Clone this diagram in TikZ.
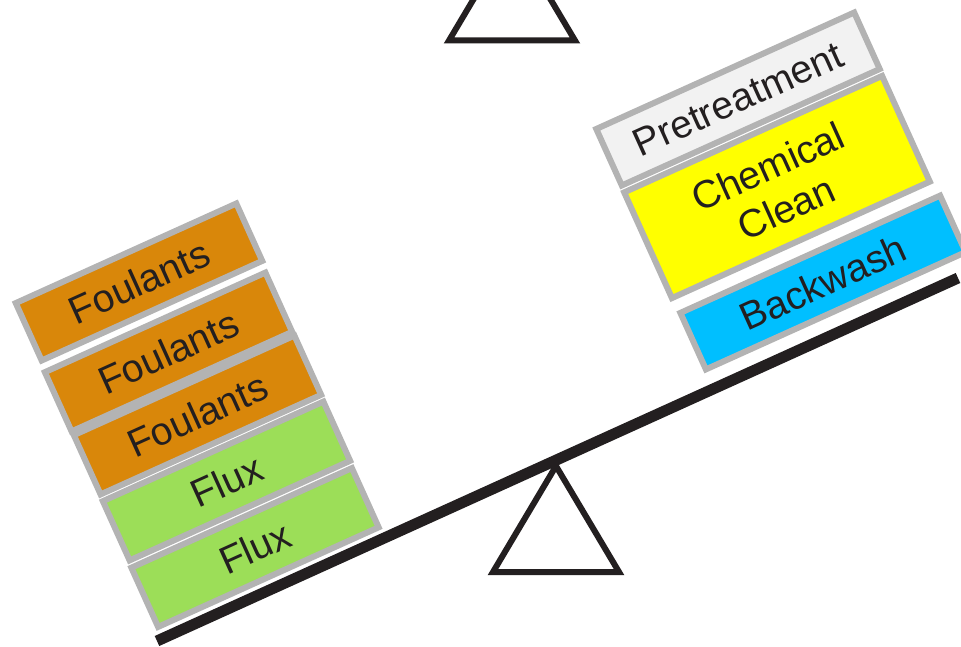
\documentclass[tikz,border=0pt]{standalone}
\usepackage{fontspec}
\setmainfont{Liberation Sans}
\definecolor{rimgray}{RGB}{179,179,179}
\definecolor{foulorange}{RGB}{217,135,10}
\definecolor{fluxgreen}{RGB}{156,222,88}
\definecolor{pregray}{RGB}{242,242,242}
\definecolor{cleanyellow}{RGB}{255,255,0}
\definecolor{washblue}{RGB}{0,191,255}
\definecolor{inkblack}{RGB}{35,31,32}
\newcommand{\tilt}{24.3}
\tikzset{blk/.style={rectangle, draw=rimgray, line width=6pt, inner sep=0pt, rotate=\tilt, text=inkblack, align=center, font=\fontsize{39}{45}\selectfont}}
\tikzset{fulcrum/.style={draw=inkblack, line width=6pt, line join=miter}}

\begin{document}
\begin{tikzpicture}[x=1pt,y=-1pt]

\useasboundingbox (0,0) rectangle (961,647);
\clip (0,0) rectangle (961,647);

% left pan
\node[blk, fill=foulorange, minimum width=242pt, minimum height=63pt] (foul1) at (139,282) {Foulants};
\node[blk, fill=foulorange, minimum width=242pt, minimum height=65pt] (foul2) at (168.5,352) {Foulants};
\node[blk, fill=foulorange, minimum width=242pt, minimum height=65pt] (foul3) at (197.5,415) {Foulants};
\node[blk, fill=fluxgreen, minimum width=242pt, minimum height=65pt] (flux1) at (226.5,481) {Flux};
\node[blk, fill=fluxgreen, minimum width=242pt, minimum height=65pt] (flux2) at (255,547.5) {Flux};

% right pan
\node[blk, fill=pregray, minimum width=283pt, minimum height=62pt] (pre) at (738,99) {Pretreatment};
\node[blk, fill=cleanyellow, minimum width=283pt, minimum height=116pt] (chem) at (777,187) {Chemical\\Clean};
\node[blk, fill=washblue, minimum width=285pt, minimum height=62pt] (wash) at (823,282.5) {Backwash};

% beam and supports
\coordinate (beamL) at (157,641);
\coordinate (beamR) at (958,278);
\draw[inkblack, line width=11pt] (beamL) -- (beamR);

\draw[fulcrum] (556,466) -- (619,572) -- (493,572) -- cycle;
\draw[fulcrum] (512,-65.5) -- (575,40.5) -- (449,40.5) -- cycle;

\end{tikzpicture}
\end{document}
